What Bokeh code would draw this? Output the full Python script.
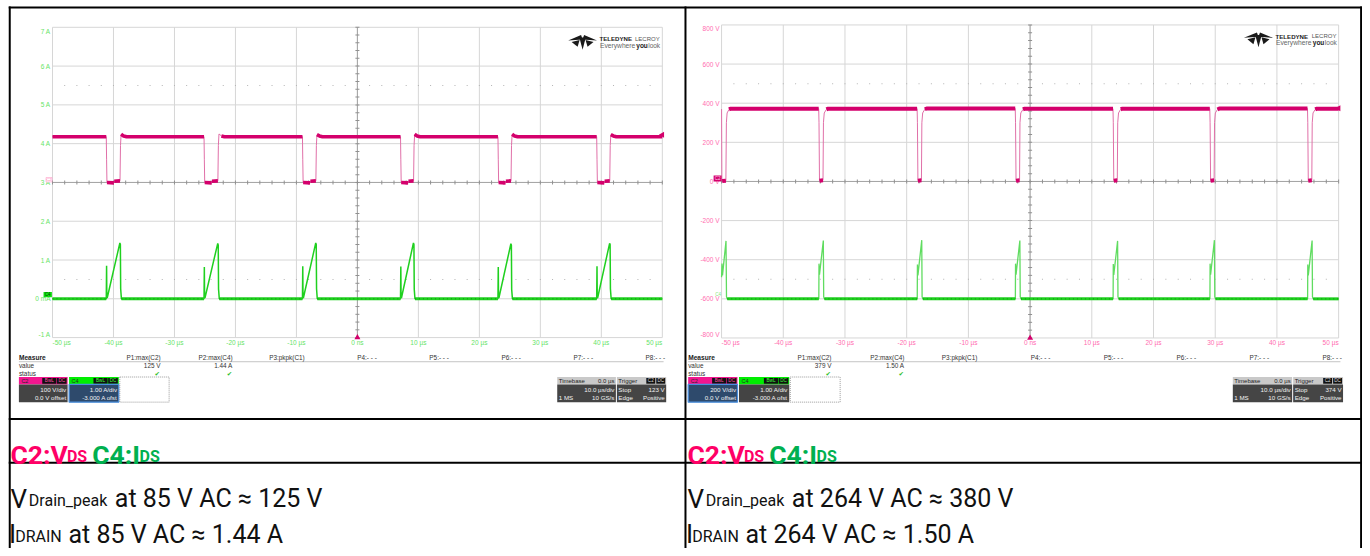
import numpy as np
from bokeh.plotting import figure
from bokeh.models import Range1d
from bokeh.core.properties import value
from bokeh.embed import file_html
from bokeh.resources import INLINE

# ---------------- data ----------------
time_ticks = [-50, -40, -30, -20, -10, 0, 10, 20, 30, 40, 50]
time_tick_labels = ["-50 µs", "-40 µs", "-30 µs", "-20 µs", "-10 µs", "0 ns",
                    "10 µs", "20 µs", "30 µs", "40 µs", "50 µs"]
left_amp_ticks = [7, 6, 5, 4, 3, 2, 1, 0, -1]
left_amp_labels = ["7 A", "6 A", "5 A", "4 A", "3 A", "2 A", "1 A", "0 mA", "-1 A"]
right_volt_ticks = [800, 600, 400, 200, 0, -200, -400, -600, -800]
right_volt_labels = ["800 V", "600 V", "400 V", "200 V", "0 V", "-200 V", "-400 V", "-600 V", "-800 V"]

# left scope (85 V AC): C2 = V_DS (volts), C4 = I_DS (amps), time in µs
left_c2_t = [-50.0,
             -41.18, -41.13, -41.07, -39.93, -39.88, -38.93, -38.85, -38.75, -38.35, -37.85,
             -25.15, -25.10, -25.04, -23.90, -23.85, -22.88, -22.80, -22.70, -22.30, -21.80,
             -9.01, -8.96, -8.90, -7.76, -7.71, -6.81, -6.73, -6.63, -6.23, -5.73,
             7.07, 7.12, 7.18, 8.32, 8.37, 9.21, 9.29, 9.39, 9.79, 10.29,
             23.05, 23.10, 23.16, 24.30, 24.35, 25.19, 25.27, 25.37, 25.77, 26.27,
             39.24, 39.29, 39.35, 40.49, 40.54, 41.38, 41.46, 41.56, 41.96, 42.46,
             50.0]
left_c2_v = [118,
             118, 60, 0, -1, 3, 4, 95, 124, 120, 118,
             118, 60, 0, -1, 3, 4, 95, 125, 120, 118,
             118, 60, 0, -1, 3, 4, 95, 123, 120, 118,
             118, 60, 0, -1, 3, 4, 95, 124, 120, 118,
             118, 60, 0, -1, 3, 4, 95, 124, 120, 118,
             118, 60, 0, -1, 3, 4, 95, 123, 120, 118,
             118]
left_c4_t = [-50.0,
             -41.18, -41.13, -41.09, -41.03, -38.95, -38.87, -38.82, -38.70,
             -25.15, -25.10, -25.06, -25.00, -22.90, -22.82, -22.77, -22.65,
             -9.01, -8.96, -8.92, -8.86, -6.83, -6.75, -6.70, -6.58,
             7.07, 7.12, 7.16, 7.22, 9.19, 9.27, 9.32, 9.44,
             23.05, 23.10, 23.14, 23.20, 25.17, 25.25, 25.30, 25.42,
             39.24, 39.29, 39.33, 39.39, 41.36, 41.44, 41.49, 41.61,
             50.0]
left_c4_a = [0.0,
             0.0, 0.85, 0.05, 0.02, 1.44, 1.40, 0.26, 0.0,
             0.0, 0.82, 0.05, 0.02, 1.43, 1.38, 0.25, 0.0,
             0.0, 0.84, 0.05, 0.02, 1.44, 1.40, 0.26, 0.0,
             0.0, 0.83, 0.05, 0.02, 1.44, 1.40, 0.25, 0.0,
             0.0, 0.82, 0.05, 0.02, 1.42, 1.38, 0.24, 0.0,
             0.0, 0.84, 0.05, 0.02, 1.43, 1.40, 0.26, 0.0,
             0.0]

# right scope (264 V AC)
right_c2_t = [-50.0, -49.95, -49.90, -49.30, -49.22, -49.10, -48.80, -48.50,
              -34.26, -34.21, -34.13, -33.56, -33.49, -33.36, -33.01, -32.71,
              -18.31, -18.26, -18.18, -17.61, -17.54, -17.41, -17.06, -16.76,
              -2.41, -2.36, -2.28, -1.71, -1.64, -1.51, -1.16, -0.86,
              13.43, 13.48, 13.56, 14.13, 14.20, 14.33, 14.68, 14.98,
              29.12, 29.17, 29.25, 29.82, 29.89, 30.02, 30.37, 30.67,
              44.95, 45.00, 45.08, 45.65, 45.72, 45.85, 46.20, 46.50,
              50.0]
right_c2_v = [370, 8, 2, 4, 300, 350, 368, 372,
              372, 300, 4, 6, 300, 350, 368, 372,
              372, 300, 4, 6, 300, 350, 369, 373,
              373, 300, 4, 6, 300, 350, 368, 372,
              372, 300, 4, 6, 300, 350, 369, 372,
              372, 300, 4, 6, 300, 350, 368, 373,
              373, 300, 4, 6, 300, 350, 368, 372,
              372]
right_c4_t = [-50.0, -49.93, -49.85, -49.28, -49.20, -49.08,
              -34.24, -34.21, -34.13, -33.51, -33.45, -33.33,
              -18.29, -18.26, -18.18, -17.56, -17.50, -17.38,
              -2.39, -2.36, -2.28, -1.66, -1.60, -1.48,
              13.45, 13.48, 13.56, 14.18, 14.24, 14.36,
              29.14, 29.17, 29.25, 29.87, 29.93, 30.05,
              44.97, 45.00, 45.08, 45.70, 45.76, 45.88,
              50.0]
right_c4_a = [0.55, 0.90, 0.60, 1.48, 0.05, 0.0,
              0.0, 0.90, 0.62, 1.49, 0.05, 0.0,
              0.0, 0.88, 0.60, 1.50, 0.05, 0.0,
              0.0, 0.90, 0.62, 1.49, 0.05, 0.0,
              0.0, 0.89, 0.61, 1.48, 0.05, 0.0,
              0.0, 0.90, 0.62, 1.50, 0.05, 0.0,
              0.0, 0.88, 0.60, 1.49, 0.05, 0.0,
              0.0]

measure_names = ["P1:max(C2)", "P2:max(C4)", "P3:pkpk(C1)", "P4:- - -",
                 "P5:- - -", "P6:- - -", "P7:- - -", "P8:- - -"]
left_measure_values = ["125 V", "1.44 A"]
right_measure_values = ["379 V", "1.50 A"]
left_c2_setup = ["100 V/div", "0.0 V offset"]
right_c2_setup = ["200 V/div", "0.0 V offset"]
c4_setup = ["1.00 A/div", "-3.000 A ofst"]
left_trigger = ["Stop", "123 V", 123]
right_trigger = ["Stop", "374 V", 374]

header_texts = ["C2:V", "DS", "C4:I", "DS"]
left_lines = [("V", "Drain_peak", "at 85 V AC ≈ 125 V"), ("I", "DRAIN", "at 85 V AC ≈ 1.44 A")]
right_lines = [("V", "Drain_peak", "at 264 V AC ≈ 380 V"), ("I", "DRAIN", "at 264 V AC ≈ 1.50 A")]

# ---------------- colours ----------------
C2_TRACE = "#d4006c"
C2_THIN = "#e070a8"
C2_HEAD = "#f2168f"
C2_LABEL = "#ff6cb0"
C4_TRACE = "#1fd01f"
C4_THIN = "#60dc60"
C4_HEAD = "#00ee00"
C4_LABEL = "#66e466"
PINK_TXT = "#ff0066"
GREEN_TXT = "#00b050"
SF = "Liberation Sans"

# page frame: reference picture coordinates 0..1370 x 0..556
FX0, FX1, FYB, FYT = 0.0, 1370.0, 556.0, 0.0

p = figure(width=1362, height=548, x_range=Range1d(FX0, FX1), y_range=Range1d(FYB, FYT),
           output_backend="svg", toolbar_location=None,
           x_axis_location=None, y_axis_location=None, min_border=0)
p.outline_line_color = None
p.grid.visible = False
p.background_fill_color = "white"
p.border_fill_color = "white"


def txt(x, y, s, size, color, align="left", baseline="middle", bold=False, font=SF, **kw):
    p.text(x=[x], y=[y], text=[s], text_font=value(font), text_font_size=f"{size}px",
           text_color=color, text_align=align, text_baseline=baseline,
           text_font_style="bold" if bold else "normal", **kw)


def box(l, r, t, b, fill, line=None, lw=1, dash="solid"):
    p.quad(left=[l], right=[r], top=[t], bottom=[b], fill_color=fill,
           line_color=line, line_width=lw, line_dash=dash)


GL = dict(PL=52.3, PR=665.7, PT=27.2, PB=342.0, vdiv=100.0)
GR = dict(PL=725.3, PR=1346.0, PT=24.8, PB=342.4, vdiv=200.0)


def setup(key, g):
    bx = (g["PR"] - g["PL"]) / 100.0
    ax = g["PL"] + 50 * bx
    p.extra_x_ranges[key + "_t"] = Range1d((FX0 - ax) / bx, (FX1 - ax) / bx)
    div = (g["PB"] - g["PT"]) / 8.0
    cen = (g["PT"] + g["PB"]) / 2.0
    dv = -div / g["vdiv"]
    p.extra_y_ranges[key + "_v"] = Range1d((FYB - cen) / dv, (FYT - cen) / dv)
    ca = cen + 3 * div
    da = -div
    p.extra_y_ranges[key + "_a"] = Range1d((FYB - ca) / da, (FYT - ca) / da)
    g.update(bx=bx, ax=ax, div=div, cen=cen, dv=dv, ca=ca, da=da)


setup("L", GL)
setup("R", GR)


def grid(key, g):
    vd = g["vdiv"]
    kw = dict(x_range_name=key + "_t", y_range_name=key + "_v")
    hv = [k * vd for k in range(-4, 5)]
    p.segment(x0=[-50] * 9, x1=[50] * 9, y0=hv, y1=hv, line_color="#d6d6d6", line_width=1, **kw)
    p.segment(x0=time_ticks, x1=time_ticks, y0=[-4 * vd] * 11, y1=[4 * vd] * 11,
              line_color="#d6d6d6", line_width=1, **kw)
    p.segment(x0=[-50, 0], x1=[50, 0], y0=[0, -4 * vd], y1=[0, 4 * vd],
              line_color="#a4a4a4", line_width=1, **kw)
    tt = [x for x in np.arange(-50, 50.01, 2.0)]
    p.rect(x=tt, y=[0] * len(tt), width=1, height=4, width_units="screen", height_units="screen",
           fill_color="#909090", line_color=None, **kw)
    vv = [x * vd for x in np.arange(-4, 4.01, 0.2)]
    p.rect(x=[0] * len(vv), y=vv, width=4, height=1, width_units="screen", height_units="screen",
           fill_color="#909090", line_color=None, **kw)
    dt = [x for x in np.arange(-48, 48.01, 2.0)]
    for lev in (2.5 * vd, -2.5 * vd):
        p.rect(x=dt, y=[lev] * len(dt), width=1, height=1, width_units="screen", height_units="screen",
               fill_color="#b4b4b4", line_color=None, **kw)


grid("L", GL)
grid("R", GR)


def trace(key, g, t, vals, unit, color, thin_color, thick_w, thin_w, speck=None):
    kw = dict(x_range_name=key + "_t", y_range_name=key + "_" + unit)
    p.line(t, vals, line_color=thin_color, line_width=thin_w, **kw)
    d = abs(g["dv"] if unit == "v" else g["da"])
    xs, ys = [], []
    cx = None
    for i in range(len(t) - 1):
        dxp = abs(t[i + 1] - t[i]) * g["bx"]
        dyp = abs(vals[i + 1] - vals[i]) * d
        if dyp <= 0.35 * dxp + 0.8:
            if cx is None:
                cx, cy = [t[i]], [vals[i]]
            cx.append(t[i + 1])
            cy.append(vals[i + 1])
        else:
            if cx is not None:
                xs.append(cx)
                ys.append(cy)
            cx = None
    if cx is not None:
        xs.append(cx)
        ys.append(cy)
    p.multi_line(xs, ys, line_color=color, line_width=thick_w, line_cap="butt", **kw)
    if speck:
        p.multi_line(xs, ys, line_color=speck, line_width=1, line_dash="1 3", line_alpha=0.8, **kw)


trace("L", GL, left_c2_t, left_c2_v, "v", C2_TRACE, C2_THIN, 3.6, 1.0)
trace("L", GL, left_c4_t, left_c4_a, "a", C4_TRACE, C4_TRACE, 3.0, 1.5, speck="#0c8a0c")
trace("R", GR, right_c2_t, right_c2_v, "v", C2_TRACE, C2_THIN, 4.0, 1.0)
trace("R", GR, right_c4_t, right_c4_a, "a", C4_TRACE, C4_THIN, 3.0, 1.3, speck="#0c8a0c")


def axes_labels(key, g, yvals, ylabs, yunit, col):
    kwy = dict(y_range_name=key + "_" + yunit)
    n = len(yvals)
    for i, (v, s) in enumerate(zip(yvals, ylabs)):
        off = 4 if i == 0 else (-3 if i == n - 1 else 0)
        txt(g["PL"] - 2, v, s, 6.5, col, align="right", y_offset=off, **kwy)
    kwx = dict(x_range_name=key + "_t")
    yy = g["PB"] + 4.5
    for i, (tv, s) in enumerate(zip(time_ticks, time_tick_labels)):
        al = "left" if i == 0 else ("right" if i == len(time_ticks) - 1 else "center")
        txt(tv, yy, s, 6.5, col, align=al, **kwx)


axes_labels("L", GL, left_amp_ticks, left_amp_labels, "a", C4_LABEL)
axes_labels("R", GR, right_volt_ticks, right_volt_labels, "v", C2_LABEL)


def markers(key, g, trig, c2_filled, c4_filled):
    kwv = dict(x_range_name=key + "_t", y_range_name=key + "_v")
    vd = g["vdiv"]
    p.scatter(x=[0], y=[-4 * vd], marker="triangle", size=6, fill_color=C2_TRACE, line_color=None, **kwv)
    p.scatter(x=[50], y=[trig], marker="triangle", size=6, angle=np.pi / 2, fill_color=C2_TRACE,
              line_color=None, **kwv)
    pl, cen, ca = g["PL"], g["cen"], g["ca"]
    if c2_filled:
        box(pl - 8, pl, cen - 6, cen, C2_TRACE)
        txt(pl - 4, cen - 3, "C2", 4.5, "#ffd0e8", align="center")
    else:
        box(pl - 6.5, pl - 0.5, cen - 5, cen - 0.5, "white", line="#ff9cc8", lw=0.6)
        txt(pl - 3.5, cen - 2.8, "C2", 4.2, "#ff70b0", align="center")
    if c4_filled:
        box(pl - 9, pl - 0.6, ca - 7, ca - 1.6, "#10e010")
        txt(pl - 4.8, ca - 4.3, "C4", 4.6, "#063806", align="center")
    else:
        txt(pl - 3.5, ca - 4.5, "C4", 4.5, "#7ce87c", align="center")


markers("L", GL, left_trigger[2], False, True)
markers("R", GR, right_trigger[2], True, False)


def logo(fx, dy):
    ox, oy = 571, 35 + dy
    shapes = [[(0, 5.5), (13, 0), (14.5, 4.5)],
              [(29, 5.5), (16, 0), (14.5, 4.5)],
              [(11.3, 2.5), (17.7, 2.5), (14.5, 15)],
              [(3.5, 7.0), (11.5, 5.0), (9.5, 12.0)],
              [(25.5, 7.0), (17.5, 5.0), (19.5, 12.0)]]
    xs = [[fx(ox + a) for a, b in s] for s in shapes]
    ys = [[oy + b for a, b in s] for s in shapes]
    p.patches(xs, ys, fill_color="#1a1a1a", line_color=None)
    txt(fx(602.5), 39 + dy, "TELEDYNE", 6.1, "#1a1a1a", bold=True)
    txt(fx(663), 39 + dy, "LECROY", 6.0, "#555555", align="right")
    txt(fx(603), 45.6 + dy, "Everywhere", 6.7, "#666666")
    txt(fx(639.5), 45.6 + dy, "you", 6.5, "#1a1a1a", bold=True)
    txt(fx(651.5), 45.6 + dy, "look", 6.5, "#666666")


fxL = lambda x: x
fxR = lambda x: 673 + 1.0117 * x
logo(fxL, 0)
logo(fxR, -2.6)


def chan_box(l, r, name, head, badge_txt, sel, lines):
    box(l, r, 382, 389.5, head)
    txt(l + 2.5, 385.9, name, 5.5, "#2a2a2a")
    box(r - 25.5, r - 11.3, 383, 388.8, "#111111")
    box(r - 10.7, r - 1, 383, 388.8, "#111111")
    txt(r - 18.4, 385.9, "BwL", 4.6, badge_txt, align="center")
    txt(r - 5.85, 385.9, "DC", 4.6, badge_txt, align="center")
    if sel:
        box(l, r, 389.5, 407.5, "#2e4a6c", line="#4a90e0", lw=1.2)
    else:
        box(l, r, 389.5, 407.5, "#444444")
    txt(r - 1.5, 394.6, lines[0], 6.2, "#f2f2f2", align="right")
    txt(r - 1.5, 402.6, lines[1], 6.2, "#f2f2f2", align="right")


def panel(fx, vals, c2_lines, c2_sel, trig):
    col = "#333333"
    txt(fx(18.5), 362, "Measure", 6.6, "#222222", bold=True)
    p.segment(x0=[fx(18.5)], x1=[fx(667)], y0=[366.5], y1=[366.5], line_color="#c4c4c4", line_width=1)
    for k, nm in enumerate(measure_names):
        txt(fx(161 + 72.5 * k), 362, nm, 6.4, col, align="right")
    txt(fx(18.5), 370.5, "value", 6.4, col)
    txt(fx(161), 370.5, vals[0], 6.4, col, align="right")
    txt(fx(233.5), 370.5, vals[1], 6.4, col, align="right")
    txt(fx(18.5), 378.5, "status", 6.4, col)
    txt(fx(160.5), 378.5, "✔", 6.5, "#2ec02e", align="right", font="DejaVu Sans")
    txt(fx(233), 378.5, "✔", 6.5, "#2ec02e", align="right", font="DejaVu Sans")
    chan_box(fx(18.5), fx(67.5), "C2", C2_HEAD, "#ff4aa8", c2_sel, c2_lines)
    chan_box(fx(69), fx(119), "C4", C4_HEAD, "#3cff3c", not c2_sel, c4_setup)
    box(fx(120), fx(169.6), 382, 407.5, None, line="#9a9a9a", lw=1, dash="1 1")
    l, r = fx(560), fx(619)
    box(l, r, 382, 389.5, "#c9c9c9")
    txt(l + 1.5, 385.9, "Timebase", 6.0, "#222222")
    txt(r - 1.5, 385.9, "0.0 µs", 6.0, "#222222", align="right")
    box(l, r, 389.5, 407.5, "#454545")
    txt(r - 1.5, 394.6, "10.0 µs/div", 6.2, "#f2f2f2", align="right")
    txt(l + 1.5, 402.6, "1 MS", 6.2, "#f2f2f2")
    txt(r - 1.5, 402.6, "10 GS/s", 6.2, "#f2f2f2", align="right")
    l, r = fx(620), fx(669.6)
    box(l, r, 382, 389.5, "#c9c9c9")
    txt(l + 1.5, 385.9, "Trigger", 6.0, "#222222")
    box(r - 20, r - 11, 383, 388.8, "#111111")
    box(r - 10, r - 1, 383, 388.8, "#111111")
    txt(r - 15.5, 385.9, "C2", 4.6, "#dddddd", align="center")
    txt(r - 5.5, 385.9, "DC", 4.6, "#dddddd", align="center")
    box(l, r, 389.5, 407.5, "#454545")
    txt(l + 1.5, 394.6, trig[0], 6.2, "#f2f2f2")
    txt(r - 1.5, 394.6, trig[1], 6.2, "#f2f2f2", align="right")
    txt(l + 1.5, 402.6, "Edge", 6.2, "#f2f2f2")
    txt(r - 1.5, 402.6, "Positive", 6.2, "#f2f2f2", align="right")


panel(fxL, left_measure_values, left_c2_setup, False, left_trigger)
panel(fxR, right_measure_values, right_c2_setup, True, right_trigger)

# ---------------- table ----------------
p.segment(x0=[9.3, 689.0, 1368.6], x1=[9.3, 689.0, 1368.6], y0=[6, 6, 6], y1=[556, 556, 556],
          line_color="black", line_width=2)
p.segment(x0=[8.3] * 3, x1=[1369.6] * 3, y0=[7, 424.5, 469], y1=[7, 424.5, 469],
          line_color="black", line_width=2)

HF = "Roboto"
for ox in (0, 681):
    txt(10 + ox, 461, header_texts[0], 26.5, PINK_TXT, baseline="alphabetic", bold=True, font=HF)
    txt(66.8 + ox, 463, header_texts[1], 16, PINK_TXT, baseline="alphabetic", bold=True, font=HF)
    txt(92.3 + ox, 461, header_texts[2], 26.5, GREEN_TXT, baseline="alphabetic", bold=True, font=HF)
    txt(139.8 + ox, 463, header_texts[3], 16, GREEN_TXT, baseline="alphabetic", bold=True, font=HF)

for ox, lines in ((0, left_lines), (681, right_lines)):
    (a1, b1, c1), (a2, b2, c2) = lines
    txt(10 + ox, 505.5, a1, 26, "#111111", baseline="alphabetic", font=HF)
    txt(28.5 + ox, 507.5, b1, 16, "#111111", baseline="alphabetic", font=HF)
    txt(115 + ox, 505.5, c1, 25, "#111111", baseline="alphabetic", font=HF)
    txt(8.5 + ox, 541.5, a2, 26, "#111111", baseline="alphabetic", font=HF)
    txt(14.8 + ox, 543.5, b2, 16, "#111111", baseline="alphabetic", font=HF)
    txt(68.3 + ox, 541.5, c2, 25, "#111111", baseline="alphabetic", font=HF)

open("out.html", "w").write(file_html(p, INLINE))
